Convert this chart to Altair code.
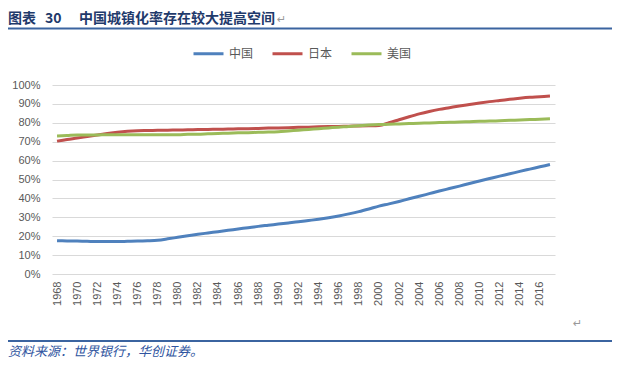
import altair as alt
import pandas as pd

years = list(range(1968, 2018))
china = [17.6, 17.5, 17.4, 17.3, 17.2, 17.2, 17.2, 17.3, 17.4, 17.6,
         17.9, 18.6, 19.4, 20.2, 21.0, 21.7, 22.4, 23.1, 23.8, 24.5,
         25.2, 25.8, 26.4, 27.0, 27.6, 28.3, 29.0, 29.8, 30.7, 31.8,
         33.0, 34.4, 35.9, 37.1, 38.4, 39.8, 41.1, 42.5, 43.9, 45.2,
         46.5, 47.9, 49.2, 50.5, 51.8, 53.0, 54.3, 55.5, 56.7, 57.9]
japan = [70.3, 71.2, 71.9, 72.7, 73.5, 74.3, 75.0, 75.5, 75.8, 75.9,
         76.0, 76.1, 76.2, 76.3, 76.4, 76.5, 76.6, 76.7, 76.8, 76.9,
         77.0, 77.2, 77.3, 77.4, 77.6, 77.7, 77.9, 78.0, 78.1, 78.2,
         78.3, 78.4, 78.6, 80.0, 81.6, 83.2, 84.7, 86.0, 87.1, 88.0,
         88.9, 89.7, 90.5, 91.2, 91.8, 92.4, 93.0, 93.5, 93.8, 94.2]
usa = [73.0, 73.3, 73.6, 73.6, 73.6, 73.7, 73.7, 73.7, 73.7, 73.7,
       73.7, 73.7, 73.7, 73.9, 74.0, 74.2, 74.4, 74.5, 74.7, 74.8,
       75.0, 75.1, 75.3, 75.7, 76.1, 76.5, 76.9, 77.3, 77.7, 78.0,
       78.4, 78.8, 79.1, 79.2, 79.4, 79.6, 79.8, 79.9, 80.1, 80.3,
       80.4, 80.6, 80.8, 80.9, 81.1, 81.3, 81.5, 81.7, 81.9, 82.1]
series_names = ["中国", "日本", "美国"]
series_colors = ["#4F81BD", "#C0504D", "#9BBB59"]
tick_years = list(range(1968, 2017, 2))
y_ticks = [i / 10 for i in range(11)]

rows = []
for name, vals in zip(series_names, [china, japan, usa]):
    for yr, v in zip(years, vals):
        rows.append({"year": yr, "value": v / 100, "series": name})
df = pd.DataFrame(rows)

lines = alt.Chart(df).mark_line(strokeWidth=3, interpolate="monotone").encode(
    x=alt.X("year:Q", scale=alt.Scale(domain=[1967.5, 2017.5], nice=False, zero=False),
            axis=alt.Axis(values=tick_years, format="d", labelAngle=-90, grid=False,
                          ticks=False, domain=False, labelPadding=7, title=None,
                          labelFont="Liberation Sans", labelFontSize=11,
                          labelColor="#595959", labelFlush=False)),
    y=alt.Y("value:Q", scale=alt.Scale(domain=[0, 1], nice=False),
            axis=alt.Axis(values=y_ticks, format=".0%", grid=True, gridColor="#d9d9d9",
                          gridWidth=1, ticks=False, domain=False, labelPadding=12,
                          title=None, labelFont="Liberation Sans", labelFontSize=11,
                          labelColor="#595959")),
    color=alt.Color("series:N",
                    scale=alt.Scale(domain=series_names, range=series_colors),
                    sort=series_names,
                    legend=alt.Legend(title=None, orient="none", legendX=140, legendY=-48,
                                      direction="horizontal", symbolType="stroke",
                                      symbolSize=900, symbolStrokeWidth=3,
                                      labelOffset=4, columnPadding=12,
                                      labelFont="Noto Sans CJK SC", labelFontSize=12,
                                      labelColor="#595959")),
)

one = pd.DataFrame({"k": [0]})

def txt(s, x, y, size, color, weight="normal", style="normal", font="Noto Sans CJK SC"):
    return alt.Chart(one).mark_text(align="left", baseline="middle", fontSize=size,
                                    color=color, fontWeight=weight, fontStyle=style,
                                    font=font).encode(
        x=alt.value(x), y=alt.value(y), text=alt.value(s))

def hrule(y):
    return alt.Chart(one).mark_rule(color="#3b64a0", strokeWidth=2).encode(
        x=alt.value(-44), x2=alt.value(560), y=alt.value(y))

layers = [
    lines,
    txt("图表", -44, -66, 14, "#1f3a6b", weight="bold"),
    txt("30", -7, -66, 14, "#1f3a6b", weight="bold"),
    txt("中国城镇化率存在较大提高空间", 27, -66, 14, "#1f3a6b", weight="bold"),
    txt("↵", 225, -65, 11, "#999999", font="DejaVu Sans"),
    hrule(-56.5),
    txt("↵", 521, 239, 11, "#999999", font="DejaVu Sans"),
    hrule(256),
    txt("资料来源：世界银行，华创证券。", -44, 267, 13, "#2f55a0", style="italic"),
]

chart = alt.layer(*layers).properties(
    width=503, height=189,
    padding={"left": 44, "top": 77, "right": 57, "bottom": 88},
    autosize=alt.AutoSizeParams(type="none"),
    background="white",
).configure_view(stroke=None)

chart.save("out.html", embed_options={"renderer": "svg", "actions": False})
